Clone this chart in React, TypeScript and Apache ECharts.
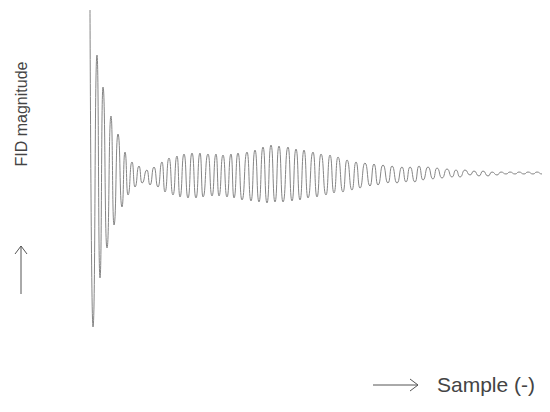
import React, { useEffect, useRef } from "react";
import * as echarts from "echarts";

// Sample positions of the successive extremes of the FID trace
const samples = [
  0, 3, 7, 10, 13, 17, 21, 24, 28, 32, 35, 38, 42, 45, 49, 52, 57, 60, 64, 68,
  72, 75, 79, 83, 87, 90, 94, 98, 102, 106, 110, 113, 118, 122, 126, 129, 133, 137, 141, 144,
  148, 152, 157, 161, 165, 169, 173, 177, 181, 185, 189, 193, 198, 202, 206, 210, 214, 218, 223, 227,
  231, 236, 240, 244, 248, 253, 257, 262, 266, 270, 275, 280, 284, 288, 293, 298, 302, 307, 312, 316,
  320, 325, 329, 333, 338, 343, 347, 352, 357, 362, 366, 370, 375, 380, 384, 389, 393, 398, 402, 407,
  411, 416, 420, 425, 429, 434, 438, 443, 447, 452, 458,
];

// FID magnitude at those extremes (arbitrary units, positive = up)
const magnitude = [
  163, -154, 118, -105, 86, -75, 57, -52, 39, -34, 21, -22, 11, -14, 7, -10, 3, -12, 6, -14,
  11, -19, 15, -22, 17, -24, 19, -25, 20, -25, 20, -24, 19, -23, 19, -23, 18, -24, 19, -25,
  20, -27, 21, -28, 23, -29, 26, -30, 28, -29, 27, -29, 26, -28, 24, -27, 23, -25, 21, -24,
  19, -22, 18, -20, 16, -19, 13, -17, 11, -15, 10, -13, 9, -12, 8, -10, 7, -10, 6, -9,
  6, -9, 7, -7, 6, -6, 5, -5, 4, -4, 3, -4, 3, -2, 2, -3, 2, -3, 1, -2,
  1, -1, 1, -1, 1, -1, 1, -1, 1, -1, 0,
];

const yLabel = "FID magnitude";
const xLabel = "Sample (-)";

export default function App() {
  const ref = useRef<HTMLDivElement>(null);
  useEffect(() => {
    if (!ref.current) return;
    const chart = echarts.init(ref.current, null, { renderer: "svg" });
    const data = samples.map((s, i) => [s, magnitude[i]]);
    chart.setOption({
      animation: false,
      backgroundColor: "#ffffff",
      grid: { left: 90, top: 0, width: 460, height: 346 },
      xAxis: { type: "value", min: 0, max: 460, show: false },
      yAxis: { type: "value", min: -173, max: 173, show: false },
      series: [
        {
          type: "line",
          data,
          showSymbol: false,
          smooth: 0.6,
          smoothMonotone: "x",
          lineStyle: { color: "#858585", width: 1 },
        },
      ],
      graphic: [
        {
          type: "text",
          x: 21,
          y: 114,
          rotation: Math.PI / 2,
          style: {
            text: yLabel,
            fill: "#444",
            font: '16px "Liberation Sans", Arial, sans-serif',
            align: "center",
            verticalAlign: "middle",
          },
        },
        {
          type: "line",
          shape: { x1: 21, y1: 294, x2: 21, y2: 246 },
          style: { stroke: "#555", lineWidth: 1 },
        },
        {
          type: "polyline",
          shape: { points: [[15, 254], [21, 246], [27, 254]] },
          style: { stroke: "#555", lineWidth: 1, fill: null },
        },
        {
          type: "line",
          shape: { x1: 373, y1: 385, x2: 418, y2: 385 },
          style: { stroke: "#555", lineWidth: 1 },
        },
        {
          type: "polyline",
          shape: { points: [[410, 379], [418, 385], [410, 391]] },
          style: { stroke: "#555", lineWidth: 1, fill: null },
        },
        {
          type: "text",
          x: 437,
          y: 384,
          style: {
            text: xLabel,
            fill: "#444",
            font: '21px "Liberation Sans", Arial, sans-serif',
            align: "left",
            verticalAlign: "middle",
          },
        },
      ],
    });
    return () => chart.dispose();
  }, []);
  return <div ref={ref} style={{ width: 550, height: 412, margin: -8 }} />;
}
